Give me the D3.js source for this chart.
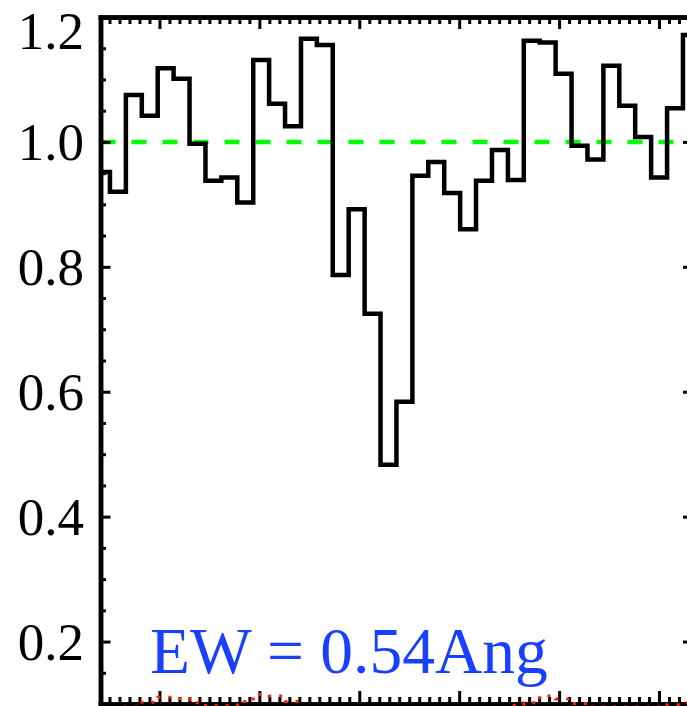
<!DOCTYPE html>
<html>
<head>
<meta charset="utf-8">
<script src="https://cdn.jsdelivr.net/npm/d3@7/dist/d3.min.js"></script>
<style>
  html, body { margin: 0; padding: 0; background: #fff; }
  svg { display: block; }
  .axis path.domain { stroke: #000; stroke-width: 4.5; stroke-linecap: square; }
  .axis .tick line { stroke: #000; stroke-width: 3; }
  .axis text { font-family: "Liberation Serif", "Times New Roman", serif; fill: #000; }
</style>
</head>
<body>
<svg id="chart" width="687" height="706"></svg>
<script>
// Velocity bin centres (km/s)
const velocity = [
  -257.5, -241.6, -225.6, -209.7, -193.8, -177.9, -161.9, -146.0, -130.1, -114.1,
  -98.2, -82.3, -66.3, -50.4, -34.5, -18.6, -2.6, 13.3, 29.2, 45.2,
  61.1, 77.0, 93.0, 108.9, 124.8, 140.8, 156.7, 172.6, 188.5, 204.5,
  220.4, 236.3, 252.3, 268.2, 284.1, 300.1, 316.0, 331.9
];
// Normalised flux per bin
const flux = [
  0.952, 0.920, 1.075, 1.042, 1.118, 1.101, 0.997, 0.938, 0.943, 0.903,
  1.131, 1.061, 1.025, 1.165, 1.155, 0.787, 0.892, 0.725, 0.483, 0.584,
  0.946, 0.968, 0.918, 0.860, 0.938, 0.987, 0.939, 1.162, 1.159, 1.109,
  0.994, 0.972, 1.122, 1.058, 1.008, 0.943, 1.054, 1.171
];
// Flux error per bin
const fluxError = [
  0.094, 0.094, 0.095, 0.103, 0.111, 0.109, 0.102, 0.097, 0.097, 0.104,
  0.115, 0.113, 0.104, 0.094, 0.093, 0.092, 0.092, 0.091, 0.090, 0.090,
  0.091, 0.092, 0.092, 0.093, 0.093, 0.094, 0.098, 0.102, 0.113, 0.108,
  0.101, 0.095, 0.095, 0.095, 0.095, 0.095, 0.099, 0.102
];
// Axis ticks
const yMajorTicks = [0.2, 0.4, 0.6, 0.8, 1.0, 1.2];
const yTickLabels = ["0.2", "0.4", "0.6", "0.8", "1.0", "1.2"];
const yMinorTicks = [0.1, 0.15, 0.25, 0.3, 0.35, 0.45, 0.5, 0.55, 0.65, 0.7, 0.75, 0.85, 0.9, 0.95, 1.05, 1.1, 1.15];
const xMajorTicks = [-200, -100, 0, 100, 200, 300];
const continuumLevel = 1.0;
const ewLabel = "EW = 0.54Ang";

const svg = d3.select("#chart");
const plotLeft = 100.5, plotRight = 693, plotTop = 17, plotBottom = 704;

const x = d3.scaleLinear().domain([-259, 334]).range([plotLeft, plotRight]);
const y = d3.scaleLinear().domain([0.1, 1.2]).range([plotBottom, plotTop]);

const xMinorTicks = d3.range(-250, 334, 10).filter(v => v % 100 !== 0);

// Continuum reference
svg.append("line")
  .attr("x1", x.range()[0]).attr("x2", x.range()[1])
  .attr("y1", y(continuumLevel)).attr("y2", y(continuumLevel))
  .attr("stroke", "#00ff00").attr("stroke-width", 4.5)
  .attr("stroke-dasharray", "15 16");

// Flux histogram
const step = d3.line()
  .x((d, i) => x(velocity[i]))
  .y(d => y(d))
  .curve(d3.curveStep);

svg.append("path")
  .datum(flux)
  .attr("d", step)
  .attr("fill", "none")
  .attr("stroke", "#000")
  .attr("stroke-width", 4.5)
  .attr("stroke-linejoin", "miter");

// Axes: minor ticks first, then major ticks with the frame
function minorAxis(axis, ticks, size) {
  return axis.tickValues(ticks).tickSizeInner(-size).tickSizeOuter(0).tickFormat("");
}

svg.append("g").attr("class", "axis minor").attr("transform", `translate(${plotLeft},0)`)
  .call(minorAxis(d3.axisLeft(y), yMinorTicks, 5.5));
svg.append("g").attr("class", "axis minor").attr("transform", `translate(${plotRight},0)`)
  .call(minorAxis(d3.axisRight(y), yMinorTicks, 5.5));
svg.append("g").attr("class", "axis minor").attr("transform", `translate(0,${plotTop})`)
  .call(minorAxis(d3.axisTop(x), xMinorTicks, 7));
svg.append("g").attr("class", "axis minor").attr("transform", `translate(0,${plotBottom})`)
  .call(minorAxis(d3.axisBottom(x), xMinorTicks, 7));

const yAxisLeft = svg.append("g").attr("class", "axis").attr("transform", `translate(${plotLeft},0)`)
  .call(d3.axisLeft(y).tickValues(yMajorTicks).tickSizeInner(-10).tickSizeOuter(0)
    .tickPadding(16.5).tickFormat((d, i) => yTickLabels[i]));
yAxisLeft.selectAll("text")
  .attr("font-size", 53)
  .attr("dy", d => d === 1.2 ? "0.59em" : "0.34em");

svg.append("g").attr("class", "axis").attr("transform", `translate(${plotRight},0)`)
  .call(d3.axisRight(y).tickValues(yMajorTicks).tickSizeInner(-10).tickSizeOuter(0).tickFormat(""));
svg.append("g").attr("class", "axis").attr("transform", `translate(0,${plotTop})`)
  .call(d3.axisTop(x).tickValues(xMajorTicks).tickSizeInner(-12).tickSizeOuter(0).tickFormat(""));
svg.append("g").attr("class", "axis").attr("transform", `translate(0,${plotBottom})`)
  .call(d3.axisBottom(x).tickValues(xMajorTicks).tickSizeInner(-13).tickSizeOuter(0).tickFormat(""));

// Error spectrum (dotted)
svg.append("path")
  .datum(fluxError)
  .attr("d", step)
  .attr("fill", "none")
  .attr("stroke", "#ff2200")
  .attr("stroke-width", 3)
  .attr("stroke-dasharray", "3 8");

// Equivalent width annotation
svg.append("text")
  .attr("x", 150).attr("y", 673)
  .attr("font-family", "'Liberation Serif', 'Times New Roman', serif")
  .attr("font-size", 65.5)
  .attr("fill", "#1a40ff")
  .text(ewLabel);
</script>
</body>
</html>
